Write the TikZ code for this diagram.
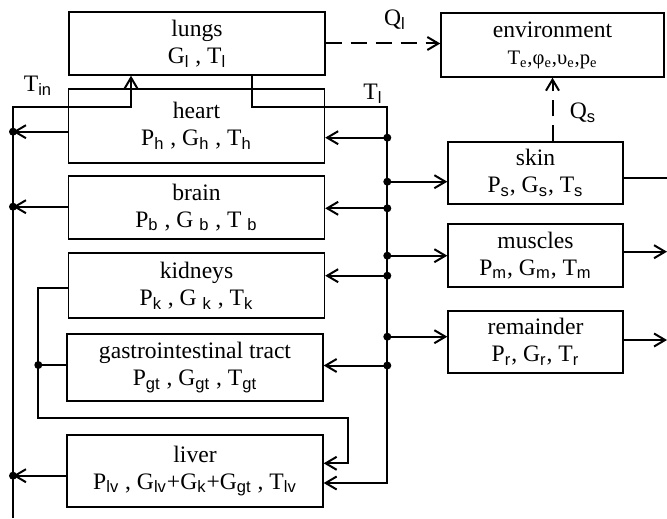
\documentclass[tikz,border=0pt]{standalone}
\usepackage{fontspec}
\setmainfont{Liberation Serif}
\setsansfont{Liberation Sans}
\usetikzlibrary{arrows.meta}
\newcommand{\ix}[1]{\textsubscript{\sffamily #1}}

\begin{document}
\begin{tikzpicture}[x=0.5pt,y=-0.5pt,
  organ/.style={draw, line width=0.7pt, align=center, inner sep=0pt, minimum width=128pt, font=\fontsize{11.8}{13.5}\selectfont},
  flow/.style={line width=1pt},
  arr/.style={flow, -{Straight Barb[length=5.5pt,width=6.5pt,line width=1pt]}},
  heat/.style={arr, dash pattern=on 8pt off 4.5pt},
  lbl/.style={font=\fontsize{11.8}{13}\selectfont}]
\useasboundingbox (0,0) rectangle (667,518);

% organs
\node[organ, minimum height=31.5pt] (lungs) at (197,43.5) {lungs\\G\ix{l} , T\ix{l}};
\node[organ, minimum width=111.5pt, minimum height=32pt] (env) at (552.5,45) {environment\\{\fontsize{10.3}{12}\selectfont T\textsubscript{e},φ\textsubscript{e},υ\textsubscript{e},p\textsubscript{e}}};
\node[organ, minimum height=37pt] (heart) at (196.5,126) {heart\\P\ix{h} , G\ix{h} , T\ix{h}};
\node[organ, minimum height=31.5pt] (brain) at (196.5,207.5) {brain\\P\ix{b} , G \ix{b} , T \ix{b}};
\node[organ, minimum height=32.5pt] (kidneys) at (196.5,285.5) {kidneys\\P\ix{k} , G \ix{k} , T\ix{k}};
\node[organ, minimum height=33.5pt] (gi) at (195,367.5) {gastrointestinal tract\\P\ix{gt} , G\ix{gt} , T\ix{gt}};
\node[organ, minimum height=36pt] (liver) at (195,471) {liver\\P\ix{lv} , G\ix{lv}+G\ix{k}+G\ix{gt} , T\ix{lv}};
\node[organ, minimum width=87.5pt, minimum height=31pt] (skin) at (535.5,173) {skin\\P\ix{s}, G\ix{s}, T\ix{s}};
\node[organ, minimum width=87.5pt, minimum height=31.5pt] (muscles) at (535.5,255.5) {muscles\\P\ix{m}, G\ix{m}, T\ix{m}};
\node[organ, minimum width=87.5pt, minimum height=31pt] (rem) at (535.5,342) {remainder\\P\ix{r}, G\ix{r}, T\ix{r}};

% labels
\node[lbl] (tin) at (38,86) {T\ix{in}};
\node[lbl] (tl) at (373,94) {T\ix{l}};
\node[lbl] (ql) at (395,20) {Q\ix{l}};
\node[lbl] (qs) at (583,113) {Q\ix{s}};

% left (venous) side
\coordinate (lbot) at (13,518);
\coordinate (ltop) at (13,106.7);
\coordinate (tn) at (131,106.7);
\coordinate (lh) at (13,131.7);
\coordinate (lb) at (13,206.7);
\coordinate (llv) at (13,475.7);

% right (arterial) side
\coordinate (lo) at (251.7,106.7);
\coordinate (rtop) at (387.3,106.7);
\coordinate (rbot) at (387.3,483);
\coordinate (rh) at (387.3,137.7);
\coordinate (rs) at (387.3,181.7);
\coordinate (rb) at (387.3,208.3);
\coordinate (rm) at (387.3,255.7);
\coordinate (rk) at (387.3,275.7);
\coordinate (rr) at (387.3,336.7);
\coordinate (rg) at (387.3,365.5);

% kidneys and gi to liver
\coordinate (kx) at (38.3,287.7);
\coordinate (gd) at (38.3,365);
\coordinate (k1) at (38.3,418.3);
\coordinate (k2) at (347.7,418.3);
\coordinate (k3) at (347.7,463.3);

% free ends at the edge
\coordinate (so) at (667,178.3);
\coordinate (mo) at (667,251.7);
\coordinate (ro) at (667,340);

\draw[arr] (lbot) -- (ltop) -- (tn) -- (tn |- lungs.south);
\draw[arr] (heart.west |- lh) -- (lh);
\draw[arr] (brain.west |- lb) -- (lb);
\draw[arr] (liver.west |- llv) -- (llv);

\draw[arr] (lungs.south -| lo) -- (lo) -- (rtop) -- (rbot) -- (rbot -| liver.east);
\draw[arr] (rh) -- (rh -| heart.east);
\draw[arr] (rs) -- (rs -| skin.west);
\draw[arr] (rb) -- (rb -| brain.east);
\draw[arr] (rm) -- (rm -| muscles.west);
\draw[arr] (rk) -- (rk -| kidneys.east);
\draw[arr] (rr) -- (rr -| rem.west);
\draw[arr] (rg) -- (rg -| gi.east);

\draw[arr] (kidneys.west |- kx) -- (kx) -- (k1) -- (k2) -- (k3) -- (k3 -| liver.east);
\draw[flow] (gi.west |- gd) -- (gd);

\draw[flow] (skin.east |- so) -- (so);
\draw[arr] (muscles.east |- mo) -- (mo);
\draw[arr] (rem.east |- ro) -- (ro);

\draw[heat] (lungs.east) -- (lungs.east -| env.west);
\draw[heat] (env.south |- skin.north) -- (env.south);

\foreach \p in {lh,lb,llv,rh,rs,rb,rm,rk,rr,rg,gd}
  \fill (\p) circle[radius=2pt];
\end{tikzpicture}
\end{document}
